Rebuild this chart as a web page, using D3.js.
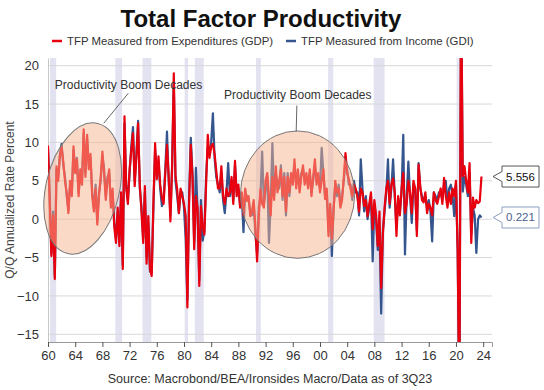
<!DOCTYPE html>
<html>
<head>
<meta charset="utf-8">
<script src="https://cdn.jsdelivr.net/npm/d3@7"></script>
<style>
  body { margin: 0; background: #fff; }
  svg { font-family: "Liberation Sans", Arial, sans-serif; }
</style>
</head>
<body>
<svg id="chart" width="544" height="390"></svg>
<script>
// quarterly series, first point is 1959Q4 (plotted at quarter end)
const firstQuarterEnd = 1960.0;

const gdp = [
  9.6,
  2.5, -4.8, 0.5, -7.8,
  6.9, 5.0, 8.2, 9.4,
  7.5, 5.0, 3.4, 0.8,
  5.0, 3.0, 9.5, 6.0,
  7.8, 3.0, 6.5, 4.5,
  11.7, 5.5, 11.0, 6.5,
  8.5, 3.0, 1.0, 4.0,
  -0.7, 3.0, 5.5, 8.8,
  6.0, 2.5, 5.0, 6.5,
  1.5, 4.0, -1.0, -3.1,
  1.5, -3.5, 3.5, -6.5,
  13.4, 4.0, 2.0, 6.5,
  9.0, 11.2, 4.3, 8.0,
  12.5, 4.5, 1.0, -3.1,
  4.3, -5.8, 0.4, -6.5,
  -7.4, 2.0, 9.9, 5.2,
  8.2, 4.5, 2.8, 2.0,
  6.0, 9.7, 5.6, -0.3,
  6.5, 19.0, 5.6, 3.9,
  0.8, 4.0, 3.0, 2.0,
  0.4, -11.5, 2.0, 9.7,
  5.5, -3.9, 3.0, 1.5,
  -8.7, 1.7, -1.0, -2.0,
  4.5, 11.0, 8.0, 9.5,
  9.8, 8.5, 6.3, 4.0,
  4.0, 6.9, 3.0, 2.0,
  4.0, 3.0, 3.5, 5.5,
  2.0, 7.6, 3.0, 4.5,
  1.5, 3.5, 0.5, 4.0,
  2.4, 3.0, 0.4, 1.0,
  2.5, -1.0, -5.5, 0.5,
  3.9, 2.0, 1.5, 5.0,
  6.0, 3.0, 0.5, 5.5,
  2.5, 6.9, 3.5, 5.0,
  6.5, 3.0, 5.5, 1.0,
  5.5, 3.5, 6.0, 4.5,
  7.8, 4.0, 6.5, 3.5,
  5.5, 7.0, 4.5, 6.0,
  4.0, 6.5, 3.0, 5.5,
  7.8, 4.5, 6.0, 3.5,
  5.0, 6.5, 2.6, 4.0,
  -2.2, 2.0, -2.5, 1.0,
  5.0, 3.5, 4.0, 1.5,
  2.5, 5.5, 8.6, 6.0,
  5.2, 4.0, 3.0, 4.5,
  4.0, 3.0, 1.0, 4.0,
  3.5, 1.7, 2.5, 0.4,
  2.0, 3.5, -1.3, 2.5,
  0.5, -3.5, 1.0, -9.0,
  -2.0, 1.5, 4.0, 5.0,
  2.0, 4.5, 5.3, 3.5,
  -2.2, 3.0, 0.5, 4.0,
  6.0, 0.8, 2.0, 5.0,
  3.5, 0.8, 5.0, 4.0,
  -2.2, 7.1, 4.3, 2.5,
  2.2, 3.5, 0.8, 2.0,
  1.5, 0.5, 3.5, 2.5,
  2.0, 3.0, 4.0, 2.0,
  5.4, 3.0, 1.5, 3.5,
  2.0, 4.0, 3.0, 5.0,
  -4.0, -25.0, 32.0, 5.6,
  6.9, 5.0, 3.5, 7.3,
  -3.1, 2.8, 1.5, 2.5,
  2.1, 2.3, 5.556
];

const gdi = [
  9.2,
  3.0, -4.5, 1.0, -7.5,
  6.5, 5.5, 8.5, 9.8,
  7.0, 5.5, 3.0, 1.2,
  4.5, 3.5, 9.0, 6.5,
  8.0, 3.5, 6.0, 5.0,
  11.2, 6.0, 10.5, 7.0,
  8.0, 3.5, 1.5, 4.5,
  -0.3, 3.5, 5.0, 8.3,
  6.5, 3.0, 5.5, 6.0,
  2.0, 3.5, -0.5, -2.5,
  1.0, -3.0, 3.0, -6.0,
  12.5, 4.5, 2.5, 6.0,
  9.5, 12.0, 5.0, 8.5,
  12.8, 4.0, 1.5, -2.5,
  3.5, -5.0, -0.5, -6.8,
  -7.0, 1.5, 9.0, 5.8,
  7.5, 4.0, 1.7, 2.5,
  6.5, 11.4, 5.0, 0.5,
  7.0, 17.5, 5.0, 3.0,
  0.8, 3.5, 3.5, 1.5,
  -2.6, -10.5, 3.0, 10.6,
  6.0, -3.0, 6.7, 1.0,
  -8.0, 2.5, -2.8, -1.5,
  5.5, 9.4, 8.5, 10.0,
  13.8, 8.0, 5.5, 4.5,
  3.5, 6.0, 2.5, 0.8,
  3.5, 7.3, 3.0, 5.0,
  2.5, 7.0, 3.5, 4.0,
  2.0, 3.0, -1.7, 3.5,
  3.0, 2.5, 1.0, 0.5,
  2.0, -2.0, -4.5, 1.5,
  3.0, 8.8, 2.0, 4.0,
  5.5, -3.1, 2.0, 9.9,
  3.0, 6.0, 4.5, 4.0,
  7.0, 2.5, 6.0, 0.5,
  6.0, 3.0, 5.5, 5.0,
  7.0, 4.5, 6.0, 4.0,
  6.0, 6.5, 5.0, 5.5,
  4.5, 6.0, 3.5, 5.0,
  7.0, 5.0, 5.5, 4.0,
  9.3, 6.0, 3.0, 3.5,
  -1.5, 1.5, -4.8, 1.5,
  4.5, 3.0, 4.5, 2.0,
  3.0, 5.0, 7.5, 6.5,
  4.5, 4.5, 2.5, 5.0,
  3.5, 3.5, 0.5, 7.8,
  4.0, 1.0, 3.0, 0.0,
  1.5, 3.0, -5.5, 2.0,
  0.0, -4.0, -1.0, -12.3,
  -1.5, 1.0, 3.5, 7.8,
  1.5, 4.0, 7.8, 3.0,
  -1.0, 2.5, 1.0, 3.5,
  11.0, -4.6, 3.0, 7.5,
  3.0, -0.5, 4.5, 4.0,
  -1.5, 7.3, 4.0, 3.0,
  2.5, 3.0, 1.5, 2.5,
  1.0, -2.9, 3.5, 3.0,
  2.5, 3.5, 3.5, 2.5,
  4.5, 5.0, 2.0, 4.0,
  4.5, 3.0, 0.4, 4.5,
  -4.0, -25.0, 32.0, 3.6,
  5.5, 4.5, 3.0, 6.0,
  -2.0, 1.5, 0.5, -4.4,
  0.0, 0.5, 0.221
];

const recessions = [
  [1960.3, 1961.2], [1969.9, 1970.9], [1973.9, 1975.2], [1980.1, 1980.6],
  [1981.6, 1982.9], [1990.6, 1991.3], [2001.2, 2001.95], [2007.9, 2009.5],
  [2020.1, 2020.4]
];

const yTicks = [-15, -10, -5, 0, 5, 10, 15, 20];
const xTicks = [1960, 1964, 1968, 1972, 1976, 1980, 1984, 1988, 1992, 1996, 2000, 2004, 2008, 2012, 2016, 2020, 2024];

const seriesNames = ["TFP Measured from Expenditures (GDP)", "TFP Measured from Income (GDI)"];
const seriesColors = ["#e8000f", "#35558f"];

// annotation ellipses, in data units (years / percent)
const booms = [
  { cx: 1965.1, cy: 4.0, rx: 5.4, ry: 8.7, angle: 13, text: [1961.0, 17.0], leader: [[1968.2, 12.5], [1971.8, 16.4]] },
  { cx: 1996.7, cy: 3.2, rx: 8.4, ry: 8.3, angle: 0, text: [1985.9, 15.6], leader: [[1996.5, 11.4], [1996.6, 14.8]] }
];

const svg = d3.select("#chart");
const margin = { left: 48, right: 52, top: 58, bottom: 48 };
const W = 544, H = 390;

const x = d3.scaleLinear().domain([1960, 2025.3]).range([margin.left, W - margin.right]);
const y = d3.scaleLinear().domain([-16, 21]).range([H - margin.bottom, margin.top]);

const toPoints = arr => arr.map((v, i) => ({ t: firstQuarterEnd + i / 4, v }));

svg.append("defs").append("clipPath").attr("id", "plot")
  .append("rect")
  .attr("x", x.range()[0]).attr("y", y.range()[1])
  .attr("width", x.range()[1] - x.range()[0])
  .attr("height", y.range()[0] - y.range()[1]);

// recession bands
svg.append("g").selectAll("rect").data(recessions).enter().append("rect")
  .attr("x", d => x(d[0]))
  .attr("width", d => x(d[1]) - x(d[0]))
  .attr("y", y.range()[1])
  .attr("height", y.range()[0] - y.range()[1])
  .attr("fill", "#e2e2f1");

// gridlines
svg.append("g").selectAll("line").data(yTicks).enter().append("line")
  .attr("x1", x.range()[0]).attr("x2", x.range()[1])
  .attr("y1", d => y(d)).attr("y2", d => y(d))
  .attr("stroke", "#d8d8d8").attr("stroke-width", 1);

// axes
const yAxis = svg.append("g")
  .attr("transform", `translate(${margin.left},0)`)
  .call(d3.axisLeft(y).tickValues(yTicks).tickSize(0).tickPadding(9));
yAxis.select(".domain").attr("stroke", "#c8c8c8");
yAxis.selectAll("text").attr("font-size", 13).attr("fill", "#333")
  .attr("font-family", "Liberation Sans, Arial, sans-serif");

const xAxis = svg.append("g")
  .attr("transform", `translate(0,${y.range()[0]})`)
  .call(d3.axisBottom(x).tickValues(xTicks).tickSize(5).tickPadding(4)
    .tickFormat(d => String(d % 100).padStart(2, "0")));
xAxis.select(".domain").attr("stroke", "#9a9a9a");
xAxis.selectAll(".tick line").attr("stroke", "#555");
xAxis.selectAll("text").attr("font-size", 13).attr("fill", "#333")
  .attr("font-family", "Liberation Sans, Arial, sans-serif");

// lines
const line = d3.line().x(d => x(d.t)).y(d => y(d.v));
const lines = svg.append("g").attr("clip-path", "url(#plot)");
[gdi, gdp].forEach((arr, k) => {
  lines.append("path")
    .datum(toPoints(arr))
    .attr("fill", "none")
    .attr("stroke", seriesColors[1 - k])
    .attr("stroke-width", 2.2)
    .attr("stroke-linejoin", "round")
    .attr("d", line);
});

// annotations
const ann = svg.append("g");
booms.forEach(b => {
  const cx = x(b.cx), cy = y(b.cy);
  ann.append("ellipse")
    .attr("cx", cx).attr("cy", cy)
    .attr("rx", x(b.cx + b.rx) - cx)
    .attr("ry", cy - y(b.cy + b.ry))
    .attr("transform", `rotate(${b.angle},${cx},${cy})`)
    .attr("fill", "#f7b48f").attr("fill-opacity", 0.5)
    .attr("stroke", "#777").attr("stroke-width", 1);
  ann.append("line")
    .attr("x1", x(b.leader[0][0])).attr("y1", y(b.leader[0][1]))
    .attr("x2", x(b.leader[1][0])).attr("y2", y(b.leader[1][1]))
    .attr("stroke", "#666").attr("stroke-width", 1);
  ann.append("text")
    .attr("x", x(b.text[0])).attr("y", y(b.text[1]))
    .attr("font-size", 12).attr("fill", "#333")
    .text("Productivity Boom Decades");
});

// end-of-series value tags
const tags = [
  { value: gdp[gdp.length - 1], stroke: "#555", color: "#111" },
  { value: gdi[gdi.length - 1], stroke: "#8fa0c4", color: "#4a5f90" }
];
tags.forEach(tg => {
  const ty = y(tg.value);
  const x0 = 493, bx = 502, bw = 37, bh = 21;
  svg.append("path")
    .attr("d", `M${x0},${ty} L${bx},${ty - 5} L${bx},${ty - bh / 2} L${bx + bw},${ty - bh / 2} L${bx + bw},${ty + bh / 2} L${bx},${ty + bh / 2} L${bx},${ty + 5} Z`)
    .attr("fill", "#fff").attr("stroke", tg.stroke).attr("stroke-width", 1);
  svg.append("text")
    .attr("x", bx + bw / 2).attr("y", ty + 4)
    .attr("text-anchor", "middle").attr("font-size", 11.5).attr("fill", tg.color)
    .text(d3.format(".3f")(tg.value));
});

// title, legend, labels
svg.append("text").attr("x", 261).attr("y", 27).attr("text-anchor", "middle")
  .attr("font-size", 24).attr("font-weight", "bold").attr("fill", "#111")
  .text("Total Factor Productivity");

const legend = svg.append("g").attr("transform", "translate(0,41)");
const legendX = [52, 286];
seriesNames.forEach((name, i) => {
  legend.append("line").attr("x1", legendX[i]).attr("x2", legendX[i] + 10)
    .attr("y1", 0).attr("y2", 0)
    .attr("stroke", seriesColors[i]).attr("stroke-width", 2.5);
  legend.append("text").attr("x", legendX[i] + 15).attr("y", 4)
    .attr("font-size", 11.4).attr("fill", "#333").text(name);
});

svg.append("text")
  .attr("transform", "translate(14,200) rotate(-90)")
  .attr("text-anchor", "middle").attr("font-size", 12).attr("fill", "#444")
  .text("Q/Q Annualized Rate Percent");

svg.append("text").attr("x", 270).attr("y", 383).attr("text-anchor", "middle")
  .attr("font-size", 12.5).attr("fill", "#333")
  .text("Source: Macrobond/BEA/Ironsides Macro/Data as of 3Q23");
</script>
</body>
</html>
